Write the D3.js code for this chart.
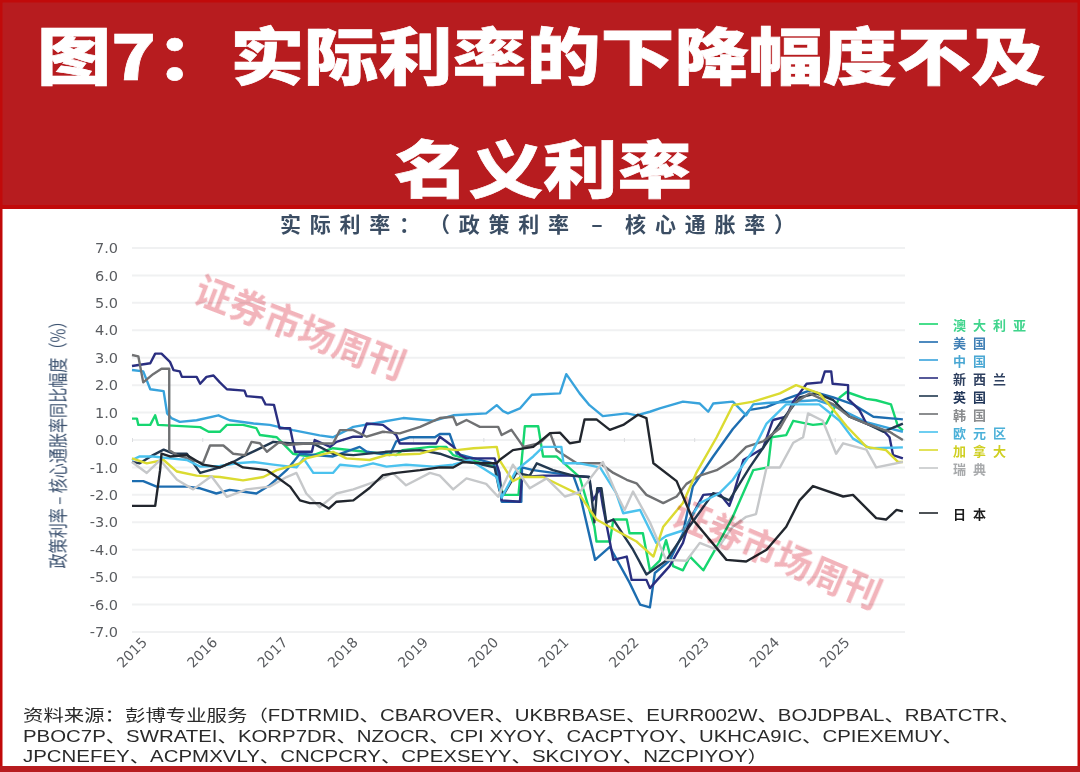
<!DOCTYPE html>
<html><head><meta charset="utf-8">
<script src="https://cdn.jsdelivr.net/npm/d3@7/dist/d3.min.js"></script>
<style>html,body{margin:0;padding:0;background:#fff;overflow:hidden}svg{display:block}text{text-spacing-trim:space-all}</style>
</head><body><svg id="c" width="1080" height="772"></svg>
<script>
const titleLines=["图7：实际利率的下降幅度不及","名义利率"];
const chartTitle="实际利率：（政策利率 – 核心通胀率）";
const yTitle="政策利率 – 核心通胀率同比幅度（%）";
const yTicks=[7,6,5,4,3,2,1,0,-1,-2,-3,-4,-5,-6,-7];
const years=[2015,2016,2017,2018,2019,2020,2021,2022,2023,2024,2025];
const sourceLines=["资料来源：彭博专业服务（FDTRMID、CBAROVER、UKBRBASE、EURR002W、BOJDPBAL、RBATCTR、",
"PBOC7P、SWRATEI、KORP7DR、NZOCR、CPI XYOY、CACPTYOY、UKHCA9IC、CPIEXEMUY、",
"JPCNEFEY、ACPMXVLY、CNCPCRY、CPEXSEYY、SKCIYOY、NZCPIYOY）"];
const watermark="证券市场周刊";

const australia=[[2015,.78],[2015.07,.78],[2015.09,.55],[2015.26,.55],[2015.33,.9],[2015.37,.55],[2015.97,.47],[2016.09,.3],[2016.25,.3],[2016.35,.55],[2016.58,.55],[2016.77,.43],[2016.82,.18],[2017.06,.1],[2017.29,-.5],[2017.53,-.6],[2017.86,-.3],[2018.76,-.55],[2018.85,-.37],[2019.24,-.25],[2019.47,-.25],[2019.57,-.55],[2020.19,-1],[2020.28,-2],[2020.5,-2],[2020.59,.5],[2020.78,.5],[2020.85,-.6],[2021.04,-.6],[2021.37,-1.35],[2021.58,-3.16],[2021.61,-3.7],[2021.8,-3.7],[2021.85,-2.9],[2022.04,-2.9],[2022.08,-3.4],[2022.27,-3.4],[2022.37,-4.75],[2022.51,-4.4],[2022.6,-3.65],[2022.7,-4.6],[2022.84,-4.75],[2022.94,-4.25],[2023.13,-4.75],[2023.32,-3.9],[2023.55,-2.8],[2023.84,-1.1],[2024.05,-1],[2024.1,.1],[2024.31,.18],[2024.41,.7],[2024.69,.55],[2024.88,.6],[2025.07,1.55],[2025.17,1.75],[2025.45,1.5],[2025.59,1.45],[2025.8,1.3],[2025.9,.5],[2025.97,.35]];
const usa=[[2015,-1.5],[2015.16,-1.5],[2015.35,-1.7],[2015.78,-1.7],[2015.97,-1.76],[2016.2,-1.95],[2016.39,-1.82],[2016.77,-1.95],[2016.96,-1.65],[2017.2,-1.1],[2017.39,-.5],[2017.86,-.6],[2018.24,-.25],[2018.34,-.43],[2018.67,-.55],[2018.76,-.05],[2018.95,.1],[2019.31,.1],[2019.38,.22],[2019.52,.22],[2019.62,-.5],[2019.76,-.6],[2020.14,-.85],[2020.21,-1.2],[2020.26,-2.25],[2020.54,-2.25],[2020.55,-1],[2020.71,-1.1],[2021.28,-1.3],[2021.37,-1.94],[2021.59,-4.37],[2021.8,-3.9],[2022.08,-5.2],[2022.23,-6],[2022.37,-6.1],[2022.44,-4.85],[2022.65,-4.4],[2022.84,-3.4],[2022.98,-1.7],[2023.27,-.6],[2023.55,.4],[2023.79,1.1],[2024.03,1.2],[2024.31,1.5],[2024.64,1.8],[2024.98,1.55],[2025.26,1.3],[2025.55,.85],[2025.97,.75]];
const china=[[2015,2.55],[2015.16,2.5],[2015.26,1.85],[2015.45,1.78],[2015.5,.97],[2015.56,.8],[2015.68,.66],[2015.92,.72],[2016.23,.9],[2016.39,.72],[2016.73,.6],[2016.96,.55],[2017.29,.36],[2017.67,.17],[2017.86,.1],[2018.15,.48],[2018.43,.6],[2018.86,.8],[2019.29,.7],[2019.57,.9],[2020.04,.97],[2020.19,1.27],[2020.28,1.05],[2020.35,.97],[2020.52,1.15],[2020.69,1.65],[2021.09,1.7],[2021.18,2.4],[2021.37,1.7],[2021.51,1.27],[2021.7,.87],[2022.04,.97],[2022.18,.9],[2022.37,1.03],[2022.51,1.15],[2022.84,1.4],[2023.08,1.33],[2023.2,1.03],[2023.27,1.33],[2023.55,1.4],[2023.74,.9],[2023.84,1.3],[2024.03,1.35],[2024.74,1.45],[2024.98,1.25],[2025.45,.65],[2025.97,.3]];
const newZealand=[[2015,2.7],[2015.26,2.8],[2015.33,3.15],[2015.42,3.15],[2015.54,2.85],[2015.59,2.55],[2015.68,2.5],[2015.71,2.3],[2015.92,2.3],[2015.97,2.05],[2016.06,2.3],[2016.16,2.35],[2016.25,2.1],[2016.35,1.85],[2016.6,1.8],[2016.63,1.6],[2016.85,1.55],[2016.9,1.3],[2017.02,1.28],[2017.1,.43],[2017.25,.43],[2017.32,-.43],[2017.56,-.43],[2017.6,0],[2017.82,-.25],[2017.91,-.07],[2018.15,.12],[2018.27,.12],[2018.34,.6],[2018.57,.55],[2018.76,.18],[2018.81,-.13],[2019.33,-.13],[2019.38,.12],[2019.57,-.24],[2019.67,-.55],[2019.76,-.67],[2020.16,-.67],[2020.23,-1.2],[2020.26,-2.2],[2020.52,-2.25],[2020.55,-1.35],[2020.85,-1.3],[2021.23,-1.3],[2021.5,-1.35],[2021.56,-2.2],[2021.66,-1.76],[2021.7,-2.4],[2021.85,-4.37],[2022.04,-4.25],[2022.11,-5.1],[2022.32,-5.1],[2022.37,-5.4],[2022.51,-5],[2022.65,-4.6],[2022.84,-3.75],[2022.94,-2.9],[2023.13,-2],[2023.36,-1.95],[2023.5,-2.4],[2023.55,-2.05],[2023.7,-.73],[2023.98,-.3],[2024.12,.73],[2024.31,.85],[2024.41,1.4],[2024.6,2.05],[2024.81,2.1],[2024.86,2.5],[2024.95,2.5],[2024.97,2.05],[2025.19,2],[2025.19,1.5],[2025.35,1.1],[2025.45,.6],[2025.69,.35],[2025.78,.1],[2025.83,-.55],[2025.97,-.67]];
const uk=[[2015,-.8],[2015.11,-.85],[2015.3,-.55],[2015.45,-.35],[2015.59,-.5],[2015.78,-.5],[2015.97,-1.2],[2016.25,-1],[2016.44,-.8],[2016.58,-.6],[2016.77,-.37],[2017.01,-.07],[2017.29,-.13],[2017.58,-.13],[2017.86,-.5],[2018.15,-.55],[2018.62,-.43],[2019.1,-.37],[2019.38,-.5],[2019.57,-.67],[2020.16,-1],[2020.23,-1.85],[2020.3,-1.94],[2020.47,-1.2],[2020.66,-1.3],[2020.76,-.85],[2020.99,-1.1],[2021.28,-1.3],[2021.51,-1.35],[2021.58,-3],[2021.62,-1.76],[2021.68,-1.76],[2021.75,-3],[2021.85,-2.9],[2022.13,-4],[2022.32,-4.9],[2022.6,-4.4],[2022.89,-3.3],[2023.03,-2.8],[2023.27,-1.94],[2023.5,-2.2],[2023.79,-1],[2024.03,-.1],[2024.26,.75],[2024.5,1.55],[2024.74,1.7],[2024.98,1.45],[2025.21,.85],[2025.45,.6],[2025.69,.3],[2025.97,.6]];
const korea=[[2015,3.1],[2015.09,3.05],[2015.16,2.1],[2015.3,2.4],[2015.42,2.6],[2015.53,2.6],[2015.53,-.37],[2015.64,-.55],[2016.01,-.85],[2016.11,-.2],[2016.3,-.2],[2016.44,-.5],[2016.61,-.55],[2016.7,-.07],[2016.82,-.12],[2016.92,-.43],[2017.1,-.07],[2017.2,-.18],[2017.48,-.13],[2017.86,-.13],[2017.96,.36],[2018.15,.36],[2018.34,.12],[2018.57,.3],[2018.81,.24],[2019.1,.48],[2019.38,.8],[2019.57,.85],[2019.62,.55],[2019.76,.73],[2019.95,.48],[2020.21,.48],[2020.26,.18],[2020.4,.37],[2020.57,-.25],[2020.8,-.12],[2020.95,.25],[2021.04,-.37],[2021.33,-.85],[2021.66,-.85],[2021.85,-1.2],[2022.04,-1.45],[2022.18,-1.58],[2022.32,-2],[2022.56,-2.3],[2022.75,-2.06],[2022.89,-1.6],[2023.08,-1.3],[2023.32,-1.1],[2023.55,-.73],[2023.74,-.25],[2023.98,-.05],[2024.22,.43],[2024.41,1.3],[2024.64,1.7],[2024.98,1.3],[2025.21,.85],[2025.45,.6],[2025.78,.3],[2025.97,0]];
const euro=[[2015,-.73],[2015.11,-.6],[2015.3,-.6],[2015.54,-.67],[2015.78,-.73],[2015.97,-.97],[2016.25,-.95],[2016.49,-.85],[2016.73,-.8],[2017.01,-.9],[2017.34,-1],[2017.44,-.67],[2017.58,-1.2],[2017.86,-1.2],[2017.96,-.9],[2018.24,-.97],[2018.43,-.85],[2018.62,-.97],[2018.9,-.9],[2019.29,-.97],[2019.57,-.9],[2019.81,-.73],[2020.04,-1.1],[2020.19,-1.35],[2020.26,-2.1],[2020.47,-1.1],[2020.71,-.6],[2020.85,-.25],[2021.11,-.25],[2021.14,-.85],[2021.37,-.85],[2021.66,-1],[2021.89,-1.94],[2021.99,-2.67],[2022.23,-2.55],[2022.46,-3.75],[2022.6,-3.5],[2022.84,-3.3],[2023.08,-2.3],[2023.36,-1.94],[2023.55,-1.45],[2023.84,-.37],[2024.03,.6],[2024.31,1.3],[2024.78,1.3],[2025.07,.7],[2025.26,.05],[2025.5,-.3],[2025.97,-.27]];
const canada=[[2015,-.67],[2015.21,-.85],[2015.45,-.73],[2015.64,-1.15],[2015.92,-1.3],[2016.25,-1.35],[2016.58,-1.47],[2016.87,-1.35],[2017.06,-1.1],[2017.39,-.85],[2017.48,-.67],[2017.86,-.43],[2018.05,-.67],[2018.38,-.73],[2018.62,-.55],[2019.1,-.5],[2019.38,-.3],[2019.62,-.37],[2019.86,-.3],[2020.19,-.25],[2020.23,-.73],[2020.42,-1.5],[2020.54,-1.35],[2020.85,-1.35],[2021.09,-1.65],[2021.37,-2],[2021.61,-2.9],[2021.89,-3.3],[2022.18,-3.7],[2022.42,-4.25],[2022.56,-3.16],[2022.84,-2.3],[2023.03,-1.2],[2023.32,.1],[2023.55,1.27],[2023.84,1.4],[2024.22,1.7],[2024.45,2],[2024.78,1.7],[2024.98,1.1],[2025.17,.5],[2025.45,-.25],[2025.73,-.37],[2025.9,-.8],[2025.97,-.8]];
const sweden=[[2015,-.8],[2015.21,-1.2],[2015.4,-.73],[2015.64,-1.45],[2015.87,-1.8],[2016.13,-1.32],[2016.35,-2.07],[2016.63,-1.8],[2016.96,-1.7],[2017.2,-1.35],[2017.34,-1.2],[2017.48,-1.95],[2017.67,-2.45],[2017.91,-1.95],[2018.15,-1.8],[2018.53,-1.45],[2018.71,-1.2],[2018.9,-1.65],[2019.24,-1.2],[2019.38,-1.3],[2019.57,-1.8],[2019.76,-1.4],[2020.04,-1.6],[2020.21,-2.07],[2020.42,-.9],[2020.66,-1.76],[2020.9,-1.4],[2021.16,-2.06],[2021.37,-1.9],[2021.7,-.8],[2021.89,-1.94],[2022.01,-2.55],[2022.13,-1.88],[2022.37,-3],[2022.6,-4.37],[2022.89,-4.4],[2023.08,-3.75],[2023.32,-4],[2023.55,-3.16],[2023.74,-2.8],[2023.88,-2.7],[2024.03,-1],[2024.22,-1],[2024.41,-.1],[2024.55,.1],[2024.62,.97],[2024.83,.7],[2025.02,-.5],[2025.12,-.12],[2025.45,-.35],[2025.59,-1],[2025.97,-.8]];
const japan=[[2015,-2.4],[2015.33,-2.4],[2015.4,-1.1],[2015.42,-.5],[2015.54,-.6],[2015.78,-.55],[2016.01,-.9],[2016.25,-1],[2016.44,-.8],[2016.58,-1],[2016.92,-1.1],[2017.06,-1.35],[2017.25,-1.7],[2017.39,-2.2],[2017.53,-2.3],[2017.67,-2.3],[2017.8,-2.5],[2017.91,-2.25],[2018.15,-2.2],[2018.38,-1.75],[2018.57,-1.28],[2018.76,-1.2],[2019.1,-1.1],[2019.38,-1],[2019.57,-1],[2019.71,-.8],[2019.95,-.85],[2020.19,-.85],[2020.23,-.73],[2020.42,-.37],[2020.71,-.25],[2020.95,.25],[2021.09,.27],[2021.23,-.12],[2021.37,-.06],[2021.44,.75],[2021.61,.75],[2021.8,.37],[2021.99,.55],[2022.2,.92],[2022.32,.8],[2022.42,-.85],[2022.75,-1.5],[2022.98,-2.9],[2023.46,-4.37],[2023.74,-4.43],[2024.03,-4],[2024.31,-3.16],[2024.5,-2.2],[2024.69,-1.68],[2025.12,-2.06],[2025.26,-2],[2025.59,-2.85],[2025.73,-2.9],[2025.88,-2.55],[2025.97,-2.6]];

const series=[
 {name:"澳大利亚",data:australia,color:"#17d66f",text:"#3fd48c",ly:324},
 {name:"美国",data:usa,color:"#1f6db0",text:"#3f7fb5",ly:342},
 {name:"中国",data:china,color:"#38a3dc",text:"#4aa7d3",ly:360},
 {name:"新西兰",data:newZealand,color:"#2a2f80",text:"#2f3f5f",ly:378},
 {name:"英国",data:uk,color:"#24384f",text:"#24385a",ly:396},
 {name:"韩国",data:korea,color:"#6f7173",text:"#8a8c8e",ly:414},
 {name:"欧元区",data:euro,color:"#4cc2ee",text:"#4cb0d8",ly:432},
 {name:"加拿大",data:canada,color:"#dbdb30",text:"#cfcf20",ly:450},
 {name:"瑞典",data:sweden,color:"#c6c8ca",text:"#a8aaac",ly:468},
 {name:"日本",data:japan,color:"#22282e",text:"#1c1c1c",ly:513}
];
const sourceWidths=[997,940,745];

const svg=d3.select("#c");
const cjk="'Noto Sans CJK SC','Liberation Sans',sans-serif";
const numFont="'DejaVu Sans',sans-serif";
const x=d3.scaleLinear().domain([2015,2026]).range([132,905]);
const y=d3.scaleLinear().domain([-7,7]).range([632,248]);

const defs=svg.append("defs");
defs.append("filter").attr("id","soft").append("feGaussianBlur").attr("stdDeviation",0.6);

const chart=svg.append("g").attr("filter","url(#soft)");
const ya=d3.axisLeft(y).tickValues(yTicks).tickSize(0).tickPadding(14).tickFormat(d=>d3.format(".1f")(d).replace("−","-"));
const yg=chart.append("g").attr("transform","translate(132,0)").call(ya);
yg.select(".domain").remove();
yg.selectAll("text").attr("fill","#5a5c60").attr("font-family",numFont).attr("font-size",14.5).attr("font-weight",500);
chart.append("g").selectAll("line").data(yTicks).join("line")
 .attr("x1",x(2015)).attr("x2",x(2026)).attr("y1",d=>y(d)).attr("y2",d=>y(d))
 .attr("stroke","#f0f1f2").attr("stroke-width",2);
const xz=d3.axisBottom(x).tickValues(years).tickSize(4).tickFormat("");
const xzg=chart.append("g").attr("transform",`translate(0,${y(0)-2})`).call(xz);
xzg.select(".domain").remove();
xzg.selectAll("line").attr("stroke","#dcdde0");
const xa=d3.axisBottom(x).tickValues(years).tickSize(0).tickFormat(d3.format("d"));
const xg=chart.append("g").attr("transform",`translate(0,${y(-7)})`).call(xa);
xg.select(".domain").remove();
xg.selectAll("text").attr("fill","#5a5c60").attr("font-family",numFont).attr("font-size",14)
 .attr("text-anchor","middle").attr("dy",0).attr("y",0)
 .attr("transform","translate(0,21) rotate(-45)").attr("dominant-baseline","middle");

const line=d3.line().x(d=>x(d[0])).y(d=>y(d[1])).curve(d3.curveLinear);
chart.append("g").selectAll("path").data(series).join("path")
 .attr("d",d=>line(d.data)).attr("fill","none").attr("stroke",d=>d.color).attr("stroke-width",2.4).attr("stroke-linejoin","round");

const lg=chart.append("g").selectAll("g").data(series).join("g").attr("transform",d=>`translate(919,${d.ly})`);
lg.append("line").attr("x1",0).attr("x2",19).attr("stroke",d=>d.color).attr("stroke-width",2).attr("opacity",.8);
lg.append("text").attr("x",34).attr("y",0).attr("dominant-baseline","central").text(d=>d.name)
 .attr("fill",d=>d.text).attr("font-family",cjk).attr("font-weight",700).attr("font-size",13).attr("letter-spacing",7);

chart.append("text").attr("x",280).attr("y",223).attr("textLength",515).attr("lengthAdjust","spacing").attr("dominant-baseline","central")
 .attr("font-family",cjk).attr("font-weight",700).attr("font-size",21).attr("fill","#3a4d63").text(chartTitle);
chart.append("text").attr("transform","translate(57,441) rotate(-90) scale(1,1.3)").attr("text-anchor","middle").attr("dominant-baseline","central")
 .attr("textLength",255).attr("lengthAdjust","spacingAndGlyphs")
 .attr("font-family",cjk).attr("font-size",15).attr("fill","#3c5270").text(yTitle);

chart.append("g").selectAll("text").data(sourceLines).join("text")
 .attr("x",23).attr("y",(d,i)=>721+i*20.5).attr("textLength",(d,i)=>sourceWidths[i]).attr("lengthAdjust","spacingAndGlyphs")
 .attr("font-family","'Liberation Sans',"+cjk).attr("font-size",16.2).attr("fill","#2a2a2a").text(d=>d);

[[301,326,21],[778,552,23]].forEach(w=>{
 chart.append("text").attr("transform",`translate(${w[0]},${w[1]}) rotate(${w[2]})`).attr("text-anchor","middle").attr("dominant-baseline","central")
 .attr("font-family","'Noto Sans CJK SC'").attr("font-weight",700).attr("font-size",37).attr("fill","#f2b4bb")
 .style("mix-blend-mode","multiply").text(watermark);
});

const red="#b71c1f", edge="#c10a0a";
svg.append("rect").attr("x",0).attr("y",0).attr("width",1080).attr("height",209).attr("fill",red);
svg.append("rect").attr("x",0).attr("y",205).attr("width",1080).attr("height",4).attr("fill",edge);
svg.append("rect").attr("x",1.25).attr("y",1.25).attr("width",1077.5).attr("height",767).attr("fill","none").attr("stroke",edge).attr("stroke-width",2.5);
svg.append("rect").attr("x",0).attr("y",766).attr("width",1080).attr("height",6).attr("fill",red);
svg.append("g").selectAll("text").data(titleLines).join("text")
 .attr("transform",(d,i)=>`translate(${i?543:541},${i?171.5:58.5}) scale(1,.84)`).attr("y",-6).attr("text-anchor","middle").attr("dominant-baseline","central")
 .attr("textLength",(d,i)=>i?298:1008).attr("lengthAdjust","spacingAndGlyphs")
 .attr("font-family",cjk).attr("font-weight",900).attr("font-size",74).attr("fill","#fff").attr("stroke","#fff").attr("stroke-width",.8).text(d=>d);
</script></body></html>
